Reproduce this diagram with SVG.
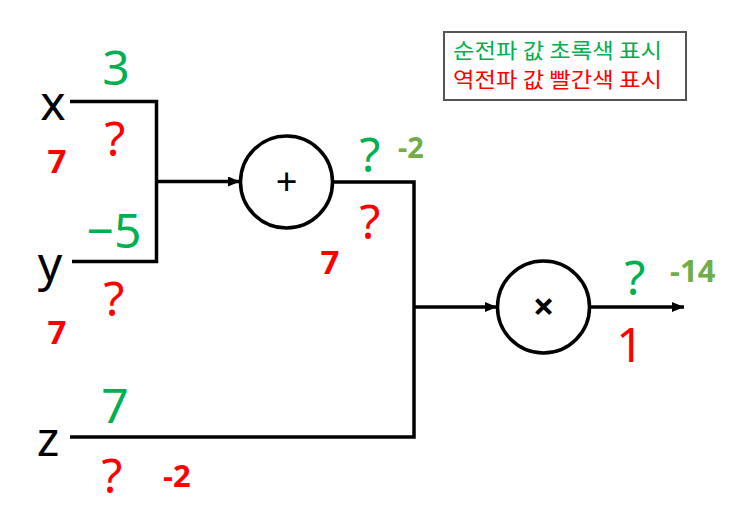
<svg xmlns="http://www.w3.org/2000/svg" width="738" height="519" viewBox="0 0 738 519">
<style>
.w{fill:none;stroke:#000;stroke-width:3.5}
.n{fill:#fff;stroke:#000;stroke-width:3.5}
.t{font-family:"Noto Sans","Liberation Sans",sans-serif}
.var{font-size:48px;fill:#000;text-anchor:middle}
.fg{font-size:48px;fill:#00B050;text-anchor:middle}
.br{font-size:48px;fill:#FF0000;text-anchor:middle}
.rb{font-weight:bold;fill:#FF0000}
.gb{font-weight:bold;fill:#70AD47}
.op{font-size:38px;fill:#000;text-anchor:middle}
.lg{font-family:"Noto Sans CJK KR","Noto Sans",sans-serif;font-size:21px}
</style>
<defs>
<marker id="ah" viewBox="0 0 12 10" refX="12" refY="5" markerWidth="12" markerHeight="10" markerUnits="userSpaceOnUse" orient="auto">
<path d="M0,0 L12,5 L0,10 Z" fill="#000"/>
</marker>
</defs>
<rect width="738" height="519" fill="#fff"/>
<g id="connectors">
<polyline class="w" points="70,101.5 156.5,101.5 156.5,261.5 72,261.5"/>
<line class="w" x1="156.5" y1="181.5" x2="240" y2="181.5" marker-end="url(#ah)"/>
<polyline class="w" points="333,182 414,182 414,437 70,437"/>
<line class="w" x1="414" y1="307" x2="497" y2="307" marker-end="url(#ah)"/>
<line class="w" x1="590" y1="307" x2="684" y2="307" marker-end="url(#ah)"/>
</g>
<g id="node-x" class="t">
<text class="var" x="53" y="120">x</text>
<text class="fg" x="116" y="85">3</text>
<text class="br" x="115" y="156">?</text>
<text class="rb" x="57" y="173" font-size="33" text-anchor="middle">7</text>
</g>
<g id="node-y" class="t">
<text class="var" x="50" y="281">y</text>
<text class="fg" x="114" y="248">−5</text>
<text class="br" x="114" y="316">?</text>
<text class="rb" x="57" y="344" font-size="33" text-anchor="middle">7</text>
</g>
<g id="node-z" class="t">
<text class="var" x="48" y="456">z</text>
<text class="fg" x="115" y="423">7</text>
<text class="br" x="112" y="493">?</text>
<text class="rb" x="163" y="487" font-size="31">-2</text>
</g>
<g id="node-add" class="t">
<circle class="n" cx="286.5" cy="182" r="46"/>
<text class="op" x="286.5" y="195">+</text>
<text class="fg" x="370" y="172">?</text>
<text class="gb" x="398" y="158" font-size="29">-2</text>
<text class="br" x="370" y="239">?</text>
<text class="rb" x="330" y="274" font-size="33" text-anchor="middle">7</text>
</g>
<g id="node-mul" class="t">
<circle class="n" cx="543.5" cy="307" r="46"/>
<text class="op" x="543.5" y="320" font-weight="bold">×</text>
<text class="fg" x="635" y="295">?</text>
<text class="gb" x="670" y="282" font-size="31">-14</text>
<text class="br" x="630" y="362">1</text>
</g>
<g id="legend">
<rect x="444" y="32" width="242" height="68" fill="#fff" stroke="#555" stroke-width="2"/>
<text class="lg" x="453" y="58" fill="#00B050" textLength="209" lengthAdjust="spacingAndGlyphs">순전파 값 초록색 표시</text>
<text class="lg" x="453" y="87" fill="#FF0000" textLength="209" lengthAdjust="spacingAndGlyphs">역전파 값 빨간색 표시</text>
</g>
</svg>
